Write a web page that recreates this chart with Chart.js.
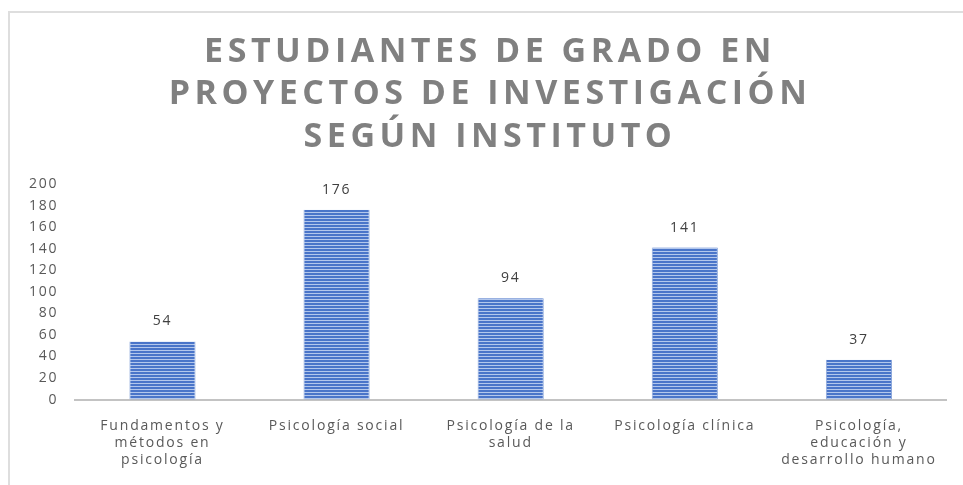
<!DOCTYPE html>
<html>
<head>
<meta charset="utf-8">
<script src="https://cdn.jsdelivr.net/npm/chart.js@4/dist/chart.umd.min.js"></script>
<style>
  html, body { margin: 0; padding: 0; background: #fff; }
  #wrap { width: 963px; height: 485px; }
</style>
</head>
<body>
<div id="wrap"><canvas id="chart" width="963" height="485"></canvas></div>
<script>
// datos del grafico
var titulo = ["ESTUDIANTES DE GRADO EN", "PROYECTOS DE INVESTIGACIÓN", "SEGÚN INSTITUTO"];
var institutos = [
    ["Fundamentos y", "métodos en", "psicología"],
    "Psicología social",
    ["Psicología de la", "salud"],
    "Psicología clínica",
    ["Psicología,", "educación y", "desarrollo humano"]
];
var estudiantes = [54, 176, 94, 141, 37];
var ticksY = [0, 20, 40, 60, 80, 100, 120, 140, 160, 180, 200];

// patron de rayas horizontales para las barras
function crearRayas() {
    var c = document.createElement('canvas');
    c.width = 4; c.height = 3;
    var g = c.getContext('2d');
    g.fillStyle = '#4a75c9';
    g.fillRect(0, 0, 4, 2);
    g.fillStyle = '#b3c7ec';
    g.fillRect(0, 2, 4, 1);
    return g.createPattern(c, 'repeat');
}

var ctx = document.getElementById('chart').getContext('2d');

// el texto del original sale algo estirado, se imita con espaciado
var espaciado = {
    id: 'espaciado',
    beforeUpdate: function(chart) { chart.ctx.letterSpacing = '1.8px'; },
    beforeDraw: function(chart) { chart.ctx.letterSpacing = '1.8px'; }
};

// marco gris del grafico
var marco = {
    id: 'marco',
    beforeDraw: function(chart) {
        var c = chart.ctx;
        c.save();
        c.strokeStyle = '#dedede';
        c.lineWidth = 2;
        c.strokeRect(9, 12, 1000, 1000);
        c.restore();
    }
};

// titulo con espaciado entre letras
var tituloEspaciado = {
    id: 'tituloEspaciado',
    afterDraw: function(chart) {
        var c = chart.ctx;
        c.save();
        c.font = 'bold 34px "Open Sans"';
        c.fillStyle = '#808080';
        c.textAlign = 'center';
        c.textBaseline = 'middle';
        c.letterSpacing = '4.5px';
        for (var i = 0; i < titulo.length; i++) {
            c.fillText(titulo[i], 490, 52 + i * 42.5);
        }
        c.restore();
    }
};

// etiquetas de valor encima de cada barra
var etiquetas = {
    id: 'etiquetas',
    afterDatasetsDraw: function(chart) {
        var c = chart.ctx;
        var meta = chart.getDatasetMeta(0);
        c.save();
        c.font = '14px "Open Sans"';
        c.fillStyle = '#404040';
        c.textAlign = 'center';
        c.textBaseline = 'middle';
        meta.data.forEach(function(bar, i) {
            c.fillText(estudiantes[i], bar.x, bar.y - 20);
        });
        c.restore();
    }
};

var myChart = new Chart(ctx, {
    type: 'bar',
    data: {
        labels: institutos,
        datasets: [{
            data: estudiantes,
            backgroundColor: crearRayas(),
            borderColor: '#8faadc',
            borderWidth: {left: 1, right: 1, top: 0, bottom: 0},
            barPercentage: 0.76,
            categoryPercentage: 0.5
        }]
    },
    options: {
        responsive: false,
        animation: false,
        layout: {padding: {top: 184, left: 12, right: 17, bottom: 7}},
        scales: {
            x: {
                grid: {display: false},
                border: {display: true, color: '#c3c3c3', width: 2},
                ticks: {
                    color: '#595959',
                    font: {family: 'Open Sans', size: 14},
                    padding: 10,
                    maxRotation: 0,
                    autoSkip: false
                }
            },
            y: {
                min: 0,
                max: 200,
                afterBuildTicks: function(axis) {
                    axis.ticks = ticksY.map(function(v) { return {value: v}; });
                },
                grid: {display: false, drawTicks: false},
                border: {display: false},
                ticks: {
                    color: '#595959',
                    font: {family: 'Open Sans', size: 14},
                    padding: 17
                }
            }
        },
        plugins: {
            legend: {display: false},
            title: {display: false},
            tooltip: {enabled: false}
        }
    },
    plugins: [espaciado, marco, etiquetas, tituloEspaciado]
});
</script>
</body>
</html>
